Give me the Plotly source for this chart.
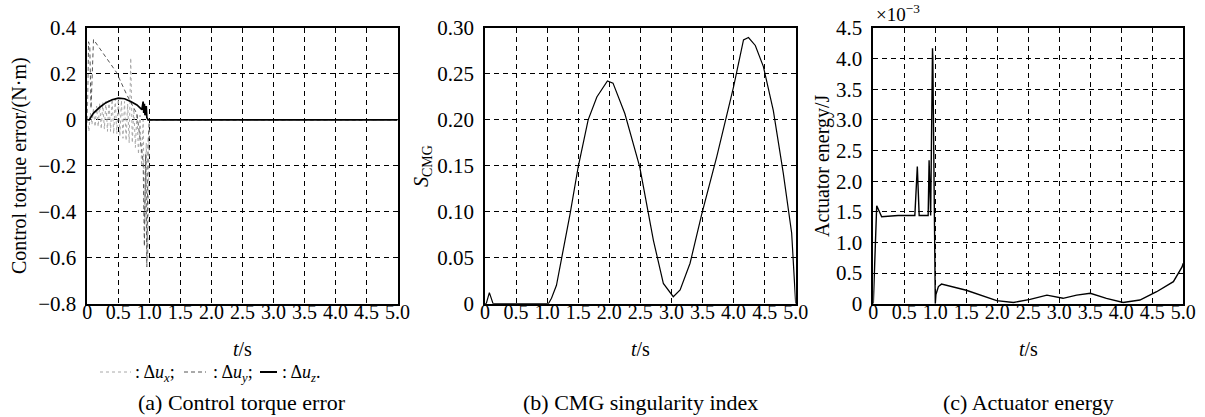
import plotly.graph_objects as go

# ---------------- data ----------------
# (a) control torque error components
t_ux = [0, 0.025, 0.05, 0.075, 0.1, 0.125, 0.15, 0.175, 0.2, 0.225, 0.25, 0.275, 0.3, 0.325,
        0.35, 0.375, 0.4, 0.425, 0.45, 0.475, 0.5, 0.525, 0.55, 0.575, 0.6, 0.625, 0.65, 0.675,
        0.7, 0.725, 0.75, 0.775, 0.8, 0.825, 0.85, 0.875, 0.9, 0.925, 0.95, 0.975, 1.0, 5.0]
ux = [0, -0.05, 0.03, -0.02, 0.05, -0.03, 0.06, -0.03, 0.07, -0.04, 0.075, -0.04, 0.08, -0.05,
      0.085, -0.05, 0.09, -0.06, 0.09, -0.06, 0.09, -0.07, 0.085, -0.08, 0.08, -0.09, 0.07, -0.1,
      0.27, -0.1, 0.05, -0.12, 0.03, -0.15, 0.02, -0.2, 0.0, -0.45, -0.1, -0.6, 0, 0]

t_uy = [0, 0.02, 0.04, 0.06, 0.1, 0.2, 0.3, 0.47, 0.63, 0.8, 0.85, 0.9, 0.92, 0.94, 0.96,
        0.97, 0.98, 1.0, 5.0]
uy = [0, 0.34, 0.32, 0.05, 0.35, 0.31, 0.27, 0.207, 0.113, 0.026, -0.08, -0.18, -0.55, -0.15,
      -0.64, -0.3, -0.1, 0, 0]

t_uz = [0, 0.03, 0.1, 0.2, 0.3, 0.4, 0.5, 0.6, 0.7, 0.8, 0.88, 0.9, 0.91, 0.92, 0.93, 0.95,
        0.96, 0.98, 1.0, 5.0]
uz = [0, 0, 0.03, 0.055, 0.075, 0.088, 0.095, 0.092, 0.08, 0.065, 0.045, 0.08, 0.03, 0.07,
      0.02, 0.06, 0.01, 0.0, 0, 0]

# (b) CMG singularity index
t_s = [0, 0.02, 0.07, 0.13, 1.02, 1.07, 1.15, 1.26, 1.37, 1.5, 1.66, 1.8, 1.97, 2.06, 2.25,
       2.49, 2.71, 2.87, 3.03, 3.14, 3.3, 3.49, 3.73, 4.0, 4.16, 4.24, 4.35, 4.48, 4.64, 4.8,
       4.935, 5.0]
s_cmg = [0, 0, 0.012, 0, 0, 0.006, 0.02, 0.058, 0.098, 0.149, 0.2, 0.225, 0.2424, 0.24, 0.207,
         0.149, 0.069, 0.022, 0.0076, 0.015, 0.044, 0.098, 0.16, 0.236, 0.287, 0.2896, 0.281,
         0.258, 0.21, 0.142, 0.077, 0.0]

# (c) actuator energy (x1e-3 J)
t_e = [0, 0.055, 0.135, 0.4, 0.67, 0.71, 0.74, 0.885, 0.9, 0.915, 0.925, 0.955, 0.96, 1.0,
       1.01, 1.05, 1.1, 1.5, 1.99, 2.26, 2.53, 2.8, 3.06, 3.28, 3.5, 3.76, 4.03, 4.3, 4.57,
       4.84, 4.98, 5.0]
energy = [0, 1.6, 1.42, 1.44, 1.44, 2.24, 1.44, 1.44, 2.34, 1.44, 1.44, 4.17, 4.0, 0.0,
          0.15, 0.28, 0.32, 0.22, 0.05, 0.02, 0.07, 0.14, 0.088, 0.14, 0.17, 0.088, 0.02, 0.06,
          0.195, 0.36, 0.6, 0.66]

x_ticks = [0, 0.5, 1.0, 1.5, 2.0, 2.5, 3.0, 3.5, 4.0, 4.5, 5.0]
x_ticktext = ["0", "0.5", "1.0", "1.5", "2.0", "2.5", "3.0", "3.5", "4.0", "4.5", "5.0"]
ya_ticks = [-0.8, -0.6, -0.4, -0.2, 0, 0.2, 0.4]
ya_text = ["\u22120.8", "\u22120.6", "\u22120.4", "\u22120.2", "0", "0.2", "0.4"]
yb_ticks = [0, 0.05, 0.10, 0.15, 0.20, 0.25, 0.30]
yb_text = ["0", "0.05", "0.10", "0.15", "0.20", "0.25", "0.30"]
yc_ticks = [0, 0.5, 1.0, 1.5, 2.0, 2.5, 3.0, 3.5, 4.0, 4.5]
yc_text = ["0", "0.5", "1.0", "1.5", "2.0", "2.5", "3.0", "3.5", "4.0", "4.5"]

# ---------------- figure ----------------
W, H = 1205, 417
FONT = "Liberation Serif, Times New Roman, serif"
FS = 21


def px(x):
    return x / W


def py(y):
    return 1 - y / H


fig = go.Figure()
fig.add_trace(go.Scatter(x=t_ux, y=ux, mode="lines", line=dict(color="#a8a8a8", width=1, dash="dot"),
                         xaxis="x", yaxis="y"))
fig.add_trace(go.Scatter(x=t_uy, y=uy, mode="lines", line=dict(color="#555555", width=1, dash="4px,3px"),
                         xaxis="x", yaxis="y"))
fig.add_trace(go.Scatter(x=t_uz, y=uz, mode="lines", line=dict(color="black", width=1.7),
                         xaxis="x", yaxis="y"))
fig.add_trace(go.Scatter(x=t_s, y=s_cmg, mode="lines", line=dict(color="black", width=1.2),
                         xaxis="x2", yaxis="y2"))
fig.add_trace(go.Scatter(x=t_e, y=energy, mode="lines", line=dict(color="black", width=1.4),
                         xaxis="x3", yaxis="y3"))

common = dict(showline=True, linecolor="black", linewidth=1.5, mirror=True,
              showgrid=True, gridcolor="black", gridwidth=1, griddash="5px,4px",
              zeroline=False, tickmode="array", automargin=False)
xcommon = dict(common, range=[0, 5], tickvals=x_ticks, ticktext=x_ticktext, ticks="",
               ticklabelstandoff=-10, tickfont=dict(family=FONT, size=20, color="black"))
ycommon = dict(common, ticks="outside", ticklen=5, tickcolor="rgba(0,0,0,0)",
               tickfont=dict(family=FONT, size=FS, color="black"))

ydom = [py(303.7), py(28)]
fig.update_layout(
    template="none",
    width=W, height=H, margin=dict(l=0, r=0, t=0, b=0, pad=0), autosize=False,
    font=dict(family=FONT, size=FS, color="black"),
    paper_bgcolor="white", plot_bgcolor="white", showlegend=False,
    xaxis=dict(xcommon, domain=[px(87.3), px(397.5)], anchor="y"),
    yaxis=dict(ycommon, domain=ydom, anchor="x", range=[-0.8, 0.4], tickvals=ya_ticks, ticktext=ya_text),
    xaxis2=dict(xcommon, domain=[px(485), px(795.7)], anchor="y2"),
    yaxis2=dict(ycommon, domain=ydom, anchor="x2", range=[0, 0.3], tickvals=yb_ticks, ticktext=yb_text),
    xaxis3=dict(xcommon, domain=[px(873.3), px(1183.3)], anchor="y3"),
    yaxis3=dict(ycommon, domain=ydom, anchor="x3", range=[0, 4.5], tickvals=yc_ticks, ticktext=yc_text),
)

ann = []


def add_text(x, y, text, xanchor="center", angle=0, size=FS):
    ann.append(dict(x=px(x), y=py(y), xref="paper", yref="paper", text=text, showarrow=False,
                    xanchor=xanchor, yanchor="middle", textangle=angle,
                    font=dict(family=FONT, size=size, color="black")))


# y titles
add_text(19, 166, "Control torque error/(N\u00b7m)", angle=-90, size=20)
add_text(422, 166, "<i>S</i><sub>CMG</sub>", angle=-90, size=20)
add_text(822, 166, "Actuator energy/J", angle=-90, size=20)
add_text(874, 13, "\u00d710<sup>\u22123</sup>", xanchor="left", size=19)
# x titles
for cx in (242.4, 640.3, 1028.3):
    add_text(cx, 349, "<i>t</i>/s", size=20)
# legend
add_text(133, 373, ": \u0394<i>u</i><sub><i>x</i></sub>;", xanchor="left", size=18)
add_text(211, 373, ": \u0394<i>u</i><sub><i>y</i></sub>;", xanchor="left", size=18)
add_text(280, 373, ": \u0394<i>u</i><sub><i>z</i></sub>.", xanchor="left", size=18)
# captions
add_text(242, 402, "(a) Control torque error", size=22)
add_text(640, 402, "(b) CMG singularity index", size=22)
add_text(1028, 402, "(c) Actuator energy", size=22)
fig.update_layout(annotations=ann)

shapes = [
    dict(type="line", xref="paper", yref="paper", x0=px(100), x1=px(131), y0=py(372), y1=py(372),
         line=dict(color="#a8a8a8", width=1, dash="dot")),
    dict(type="line", xref="paper", yref="paper", x0=px(184), x1=px(206), y0=py(372), y1=py(372),
         line=dict(color="#555555", width=1, dash="4px,3px")),
    dict(type="line", xref="paper", yref="paper", x0=px(260), x1=px(277), y0=py(372), y1=py(372),
         line=dict(color="black", width=2)),
]
fig.update_layout(shapes=shapes)

fig.write_html("out.html", config={"displayModeBar": False},
               post_script="document.body.style.margin='0';document.body.style.padding='0';")
